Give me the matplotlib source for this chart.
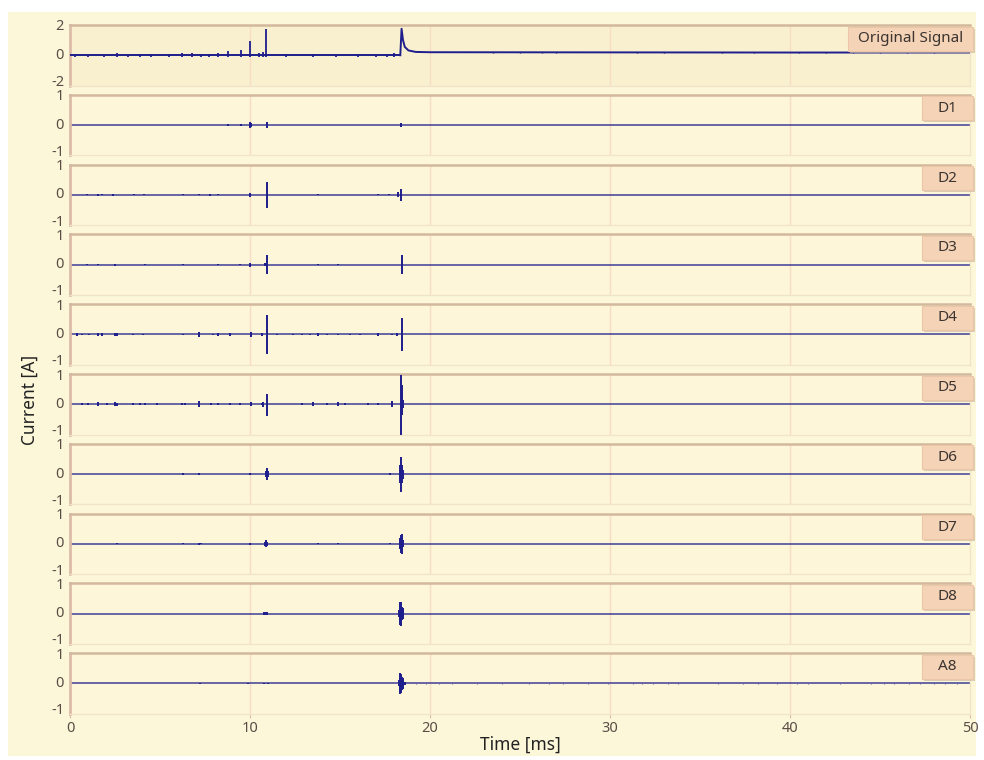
import matplotlib
matplotlib.use("Agg")
import matplotlib.pyplot as plt
import matplotlib.transforms as mtransforms
from matplotlib.patches import Rectangle

# ---------------- data ----------------
panel_names = ["Original Signal", "D1", "D2", "D3", "D4", "D5", "D6", "D7", "D8", "A8"]
x_ticks = [0, 10, 20, 30, 40, 50]
orig_yticks = [-2, 0, 2]
detail_yticks = [-1, 0, 1]

# Original signal: spikes before the event, then an exponential-like tail
orig_spike_t = [0.3, 1.0, 1.9, 2.6, 3.2, 3.9, 4.5, 5.5, 6.2, 6.8, 7.3, 7.7, 8.2, 8.8,
                9.5, 10.0, 10.5, 10.7, 10.9, 12.0, 13.5, 14.8, 16.0, 17.0, 17.6, 18.0]
orig_spike_v = [0.08, 0.06, 0.08, 0.15, 0.07, 0.08, 0.08, 0.06, 0.15, 0.12, 0.10, 0.10, 0.18, 0.25,
                0.35, 0.95, 0.12, 0.20, 1.72, 0.05, 0.05, 0.08, 0.05, 0.06, 0.10, 0.12]
orig_tail_t = [18.35, 18.42, 18.5, 18.6, 18.8, 19.2, 20.0, 30.0, 40.0, 50.0]
orig_tail_v = [0.0, 1.75, 1.0, 0.55, 0.32, 0.22, 0.20, 0.19, 0.18, 0.18]
orig_late_t = [23.5, 25.0, 26.2, 27.0, 31.5, 33.0, 36.2, 38.0, 40.5, 42.0, 43.5, 45.0, 46.5, 48.0]
orig_late_v = [0.05, 0.06, 0.05, 0.05, 0.04, 0.05, 0.05, 0.04, 0.05, 0.06, 0.06, 0.06, 0.06, 0.06]

# Detail / approximation coefficients: spike time and half-amplitude
d1_t = [8.8, 9.5, 10.0, 10.04, 10.93, 18.4]
d1_a = [0.02, 0.03, 0.10, 0.07, 0.10, 0.07]

d2_t = [0.96, 1.57, 1.76, 2.41, 3.57, 4.1, 6.26, 7.19, 7.78, 8.24, 10.02, 10.94, 13.8, 17.1, 17.7, 18.2, 18.39]
d2_a = [0.02, 0.03, 0.02, 0.04, 0.02, 0.02, 0.02, 0.02, 0.04, 0.02, 0.07, 0.42, 0.02, 0.02, 0.02, 0.08, 0.20]

d3_t = [0.96, 1.57, 2.5, 4.17, 6.26, 8.24, 9.44, 10.02, 10.83, 10.94, 13.8, 14.9, 18.43]
d3_a = [0.02, 0.02, 0.03, 0.02, 0.02, 0.02, 0.02, 0.07, 0.05, 0.32, 0.02, 0.02, 0.31]

d4_t = [0.37, 0.65, 1.07, 1.57, 1.76, 2.5, 2.6, 3.52, 4.07, 6.26, 7.19, 7.96, 8.24, 8.9,
        10.04, 10.65, 10.94, 11.48, 12.41, 12.87, 13.33, 13.8, 14.26, 14.91, 15.56, 16.11, 17.13, 17.87, 18.15, 18.43]
d4_a = [0.04, 0.03, 0.03, 0.05, 0.04, 0.06, 0.05, 0.03, 0.03, 0.03, 0.07, 0.03, 0.04, 0.04,
        0.07, 0.06, 0.63, 0.03, 0.03, 0.03, 0.03, 0.05, 0.03, 0.03, 0.03, 0.03, 0.05, 0.03, 0.05, 0.56]

d5_t = [0.65, 1.02, 1.57, 2.04, 2.5, 2.6, 3.52, 3.89, 4.17, 4.83, 6.2, 6.39, 7.19, 7.85, 8.2,
        8.87, 9.44, 10.04, 10.65, 10.74, 10.94, 12.87, 13.52, 14.26, 14.91, 15.28, 16.57, 17.13, 17.87,
        18.38, 18.42, 18.46, 18.5]
d5_up = [0.03, 0.03, 0.06, 0.03, 0.06, 0.05, 0.03, 0.03, 0.03, 0.03, 0.04, 0.04, 0.10, 0.03, 0.04,
         0.03, 0.03, 0.07, 0.04, 0.08, 0.33, 0.03, 0.06, 0.03, 0.07, 0.03, 0.03, 0.03, 0.10,
         0.97, 0.62, 0.35, 0.15]
d5_dn = [0.03, 0.03, 0.06, 0.03, 0.06, 0.05, 0.03, 0.03, 0.03, 0.03, 0.04, 0.04, 0.10, 0.03, 0.04,
         0.03, 0.03, 0.07, 0.04, 0.08, 0.40, 0.03, 0.06, 0.03, 0.07, 0.03, 0.03, 0.03, 0.10,
         1.00, 0.35, 0.25, 0.12]

d6_t = [6.26, 7.19, 10.0, 10.9, 10.94, 10.98, 17.8, 18.36, 18.4, 18.44, 18.48]
d6_a = [0.02, 0.02, 0.02, 0.10, 0.21, 0.10, 0.02, 0.30, 0.58, 0.30, 0.15]

d7_t = [2.6, 6.26, 7.19, 7.3, 10.02, 10.84, 10.9, 10.96, 13.8, 14.9, 17.8,
        18.34, 18.38, 18.42, 18.46, 18.5]
d7_a = [0.02, 0.02, 0.03, 0.02, 0.03, 0.07, 0.12, 0.07, 0.02, 0.02, 0.02,
        0.18, 0.30, 0.33, 0.22, 0.12]

d8_t = [10.8, 10.87, 10.94, 18.28, 18.32, 18.36, 18.4, 18.44, 18.48, 18.52]
d8_a = [0.04, 0.04, 0.04, 0.12, 0.25, 0.38, 0.40, 0.22, 0.18, 0.08]

a8_t = [7.2, 9.9, 10.75, 11.0, 18.28, 18.32, 18.36, 18.4, 18.44, 18.48, 18.52, 18.6]
a8_a = [0.02, 0.02, 0.03, 0.03, 0.10, 0.35, 0.25, 0.30, 0.22, 0.18, 0.10, 0.05]
a8_noise_t = [19.2, 19.8, 20.5, 21.2, 22.6, 24.0, 25.5, 26.6, 27.4, 28.8, 29.9, 31.3, 31.8,
              32.4, 33.2, 33.8, 36.0, 37.4, 38.2, 39.3, 40.4, 41.0, 42.8, 44.5, 45.2, 45.8,
              46.6, 47.2, 48.0, 48.6, 49.3]
a8_noise_a = [0.03] * len(a8_noise_t)

detail_t = [d1_t, d2_t, d3_t, d4_t, d5_t, d6_t, d7_t, d8_t, a8_t]
detail_up = [d1_a, d2_a, d3_a, d4_a, d5_up, d6_a, d7_a, d8_a, a8_a]
detail_dn = [d1_a, d2_a, d3_a, d4_a, d5_dn, d6_a, d7_a, d8_a, a8_a]

# ---------------- styling ----------------
W, H = 984, 760
fig = plt.figure(figsize=(W / 100, H / 100), dpi=100, facecolor="white")
fig.patches.append(Rectangle((8 / W, 1 - 756 / H), (976 - 8) / W, (756 - 12) / H,
                             transform=fig.transFigure, facecolor="#fdf7da",
                             edgecolor="none", zorder=-10))

FONT = ["Noto Sans", "DejaVu Sans"]
LINE = "#1e1e8c"
TICKC = "#5b4d46"
GRID = "#f7dcc6"
SPINE_L = "#dcbca8"
SPINE_T = "#d2b89c"
SPINE_FAINT = "#f2e4c6"

left_px, right_px = 70, 970
pitch = 69.8
height_px = 60.5
top0 = 25


def fig_rect(x0, y0, w, h, **kw):
    """Rectangle given in figure pixels measured from the top-left corner."""
    return Rectangle((x0 / W, 1 - (y0 + h) / H), w / W, h / H,
                     transform=fig.transFigure, **kw)


axes = []
for i, name in enumerate(panel_names):
    top = top0 + pitch * i
    ax = fig.add_axes([left_px / W, 1 - (top + height_px) / H,
                       (right_px - left_px) / W, height_px / H])
    ax.set_zorder(1)
    axes.append(ax)
    ax.set_facecolor("#f9f0cf" if i == 0 else "#fdf6d8")
    ax.set_xlim(0, 50)
    yt = orig_yticks if i == 0 else detail_yticks
    ax.set_ylim(yt[0], yt[-1])
    ax.set_yticks([])
    # y tick labels drawn by hand so the top/bottom ones can sit slightly inside
    shifts = {yt[0]: 3, yt[1]: 0, yt[2]: -2}
    for v in yt:
        tr = ax.get_yaxis_transform() + mtransforms.ScaledTranslation(
            -6 / 100, shifts[v] / 100, fig.dpi_scale_trans)
        ax.text(0, v, f"{v:g}", transform=tr, ha="right", va="center",
                fontsize=10.5, family=FONT, color=TICKC, clip_on=False)
    ax.set_xticks(x_ticks)
    for xv in x_ticks[1:-1]:
        ax.axvline(xv, color=GRID, lw=1.0, zorder=1)
    ax.spines["left"].set_color(SPINE_L)
    ax.spines["left"].set_linewidth(2.0)
    ax.spines["top"].set_color(SPINE_T)
    ax.spines["top"].set_linewidth(1.8)
    ax.spines["right"].set_color(SPINE_FAINT)
    ax.spines["bottom"].set_color(SPINE_FAINT)
    ax.spines["right"].set_linewidth(1.0)
    ax.spines["bottom"].set_linewidth(1.0)
    if i == len(panel_names) - 1:
        ax.tick_params(axis="x", length=3, color=SPINE_L, labelsize=10.5, labelcolor=TICKC, pad=2)
        for lab in ax.get_xticklabels():
            lab.set_family(FONT)
    else:
        ax.tick_params(axis="x", length=0, labelbottom=False)

    # name tag (peach box with a soft shadow) in the upper right corner
    bw = 125 if i == 0 else 51
    bh = 24
    bx = 973 - bw
    by = top + 1.5
    fig.patches.append(fig_rect(bx + 2, by + 2, bw, bh, facecolor="#cdbda5",
                                edgecolor="none", alpha=0.7, zorder=4))
    fig.patches.append(fig_rect(bx, by, bw, bh, facecolor="#f4d3b6",
                                edgecolor="#ecc6a6", lw=0.8, zorder=5))
    fig.text((bx + bw / 2) / W, 1 - (by + bh / 2) / H, name, ha="center", va="center",
             fontsize=11, family=FONT, color="#3b3430", zorder=6)

# original signal
ax = axes[0]
ax.plot([0, orig_tail_t[0]], [0, 0], color=LINE, lw=1.4, zorder=3)
ax.vlines(orig_spike_t, [-0.1] * len(orig_spike_t), orig_spike_v, color=LINE, lw=1.3, zorder=3)
ax.plot(orig_tail_t, orig_tail_v, color=LINE, lw=1.4, zorder=3)
ax.vlines(orig_late_t, [0.13] * len(orig_late_t),
          [0.18 + v for v in orig_late_v], color=LINE, lw=1.0, zorder=3)

# details
for k in range(9):
    ax = axes[k + 1]
    ax.axhline(0, color=LINE, lw=1.1, alpha=0.85, zorder=2)
    tt = detail_t[k]
    ax.vlines(tt, [-v for v in detail_dn[k]], detail_up[k], color=LINE, lw=1.4, zorder=3)
axes[-1].vlines(a8_noise_t, [-v for v in a8_noise_a], a8_noise_a, color="#6a5fb0", lw=0.8, zorder=3)

fig.text(30 / W, 1 - 400 / H, "Current [A]", rotation=90, ha="center", va="center",
         fontsize=12.5, family=FONT, color="#222222")
fig.text(520 / W, 1 - 745 / H, "Time [ms]", ha="center", va="center",
         fontsize=12.5, family=FONT, color="#222222")

fig.savefig("out.png", dpi=100, facecolor="white")
